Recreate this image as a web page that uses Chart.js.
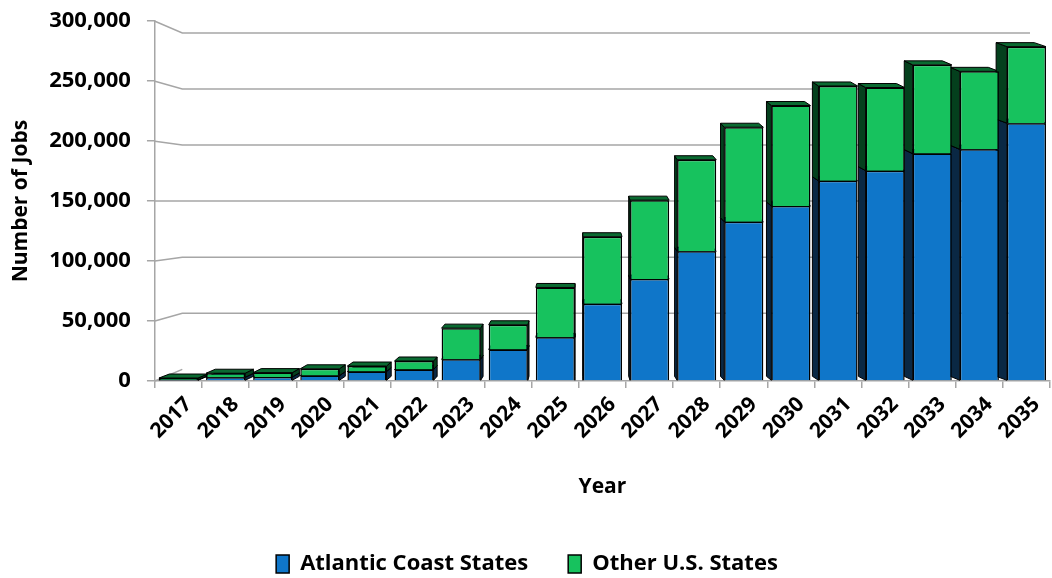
<!DOCTYPE html>
<html>
<head>
<meta charset="utf-8">
<script src="https://cdn.jsdelivr.net/npm/chart.js@4.4.1/dist/chart.umd.min.js"></script>
<style>
    html, body { margin: 0; padding: 0; background: #fff; overflow: hidden; }
    #wrap { width: 1052px; height: 586px; position: relative; top: -8px; }
</style>
</head>
<body>
<div id="wrap"><canvas id="grafico"></canvas></div>
<script>
// values
const years = ['2017', '2018', '2019', '2020', '2021', '2022', '2023', '2024', '2025', '2026',
    '2027', '2028', '2029', '2030', '2031', '2032', '2033', '2034', '2035'];
const atlanticCoast = [1000, 3100, 3400, 4500, 7900, 9600, 18100, 26300, 36400, 64400,
    85000, 108200, 132800, 146000, 167000, 175400, 189600, 193200, 215000];
const otherStates = [1500, 3400, 3600, 5700, 4600, 7100, 26000, 20600, 41600, 55900,
    65800, 76300, 78800, 83700, 79000, 69300, 74000, 65000, 63800];
const yTicks = [0, 50000, 100000, 150000, 200000, 250000, 300000];

const FONT = '"Open Sans", Lato, sans-serif';
const sideColors = ['#0a2844', '#04401d'];
const topColors = ['#0b4f8a', '#0a6a31'];

// back wall: pulled toward a vanishing point inside the plot
function haciaFondo(area, x, y, f) {
    const vx = area.left + area.width * 0.47;
    const vy = area.top + area.height * 0.5;
    return [vx + (x - vx) * f, vy + (y - vy) * f];
}

// depth of a bar: sideways toward the middle, a little upward
function profBarra(area, x, y) {
    const vx = area.left + area.width * 0.47;
    return [x + (vx - x) * 0.025, y - 4];
}

const profundidad = {
    id: 'profundidad',
    beforeDatasetsDraw(chart) {
        const { ctx, chartArea, scales } = chart;
        const ys = scales.y;

        // back wall gridlines
        ctx.save();
        ctx.strokeStyle = '#a6a6a6';
        ctx.lineWidth = 1.5;
        yTicks.forEach(v => {
            if (v === 0) return;
            const py = ys.getPixelForValue(v);
            const [bx, by] = haciaFondo(chartArea, chartArea.left, py, 0.935);
            ctx.beginPath();
            ctx.moveTo(chartArea.left, py);
            ctx.lineTo(bx, by);
            ctx.lineTo(chartArea.right - 20, by);
            ctx.stroke();
        });
        const py0 = ys.getPixelForValue(0);
        const [fx, fy] = haciaFondo(chartArea, chartArea.left, py0, 0.935);
        ctx.beginPath();
        ctx.moveTo(chartArea.left, py0);
        ctx.lineTo(fx, fy);
        ctx.stroke();

        // side and top faces of the bars
        ctx.strokeStyle = '#000';
        ctx.lineWidth = 1;
        const vx = chartArea.left + chartArea.width * 0.47;
        chart.data.datasets.forEach((ds, di) => {
            const meta = chart.getDatasetMeta(di);
            meta.data.forEach(bar => {
                const p = bar.getProps(['x', 'y', 'base', 'width'], true);
                const l = p.x - p.width / 2, r = p.x + p.width / 2;
                const t = Math.min(p.y, p.base), b = Math.max(p.y, p.base);
                const tl = profBarra(chartArea, l, t), tr = profBarra(chartArea, r, t);
                const bl = profBarra(chartArea, l, b), br = profBarra(chartArea, r, b);
                const cara = (pts, color) => {
                    ctx.beginPath();
                    ctx.moveTo(pts[0][0], pts[0][1]);
                    pts.slice(1).forEach(q => ctx.lineTo(q[0], q[1]));
                    ctx.closePath();
                    ctx.fillStyle = color;
                    ctx.fill();
                    ctx.stroke();
                };
                if (p.x > vx) cara([[l, t], tl, bl, [l, b]], sideColors[di]);
                else cara([[r, t], tr, br, [r, b]], sideColors[di]);
                cara([[l, t], tl, tr, [r, t]], topColors[di]);
            });
        });
        ctx.restore();
    }
};

const ctx = document.getElementById('grafico').getContext('2d');
new Chart(ctx, {
    type: 'bar',
    data: {
        labels: years,
        datasets: [
            { label: 'Atlantic Coast States', data: atlanticCoast, backgroundColor: '#0f76c9',
              borderColor: '#000', borderWidth: 1.5, barPercentage: 0.83, categoryPercentage: 1 },
            { label: 'Other U.S. States', data: otherStates, backgroundColor: '#17c25e',
              borderColor: '#000', borderWidth: 1.5, barPercentage: 0.83, categoryPercentage: 1 }
        ]
    },
    options: {
        responsive: true,
        maintainAspectRatio: false,
        animation: false,
        layout: { padding: { top: 2, right: 2, left: 4, bottom: -7 } },
        plugins: {
            legend: {
                position: 'bottom',
                labels: {
                    color: '#000',
                    font: { family: FONT, size: 22, weight: 'bold' },
                    boxWidth: 13, boxHeight: 18, padding: 40
                }
            },
            tooltip: { enabled: false }
        },
        scales: {
            x: {
                stacked: true,
                grid: { drawOnChartArea: false, drawTicks: true, tickLength: 7, color: '#a6a6a6', lineWidth: 1.5, offset: true },
                border: { color: '#a6a6a6', width: 1.5 },
                ticks: {
                    color: '#000', font: { family: FONT, size: 21, weight: 'bold' },
                    maxRotation: 45, minRotation: 45, padding: 4, labelOffset: 10, autoSkip: false
                },
                title: {
                    display: true, text: 'Year', color: '#000',
                    font: { family: FONT, size: 21, weight: 'bold' }, padding: { top: 27, bottom: 13 }
                }
            },
            y: {
                stacked: true,
                min: 0, max: 300000,
                afterBuildTicks: axis => { axis.ticks = yTicks.map(v => ({ value: v })); },
                grid: { drawOnChartArea: false, drawTicks: true, tickLength: 8, color: '#a6a6a6', lineWidth: 1.5 },
                border: { color: '#a6a6a6', width: 1.5 },
                ticks: {
                    color: '#000', font: { family: FONT, size: 22, weight: 'bold' }, padding: 16,
                    callback: v => v.toLocaleString('en-US')
                },
                title: {
                    display: true, text: 'Number of Jobs', color: '#000',
                    font: { family: FONT, size: 21, weight: 'bold' }, padding: { bottom: 0 }
                }
            }
        }
    },
    plugins: [profundidad]
});
</script>
</body>
</html>
